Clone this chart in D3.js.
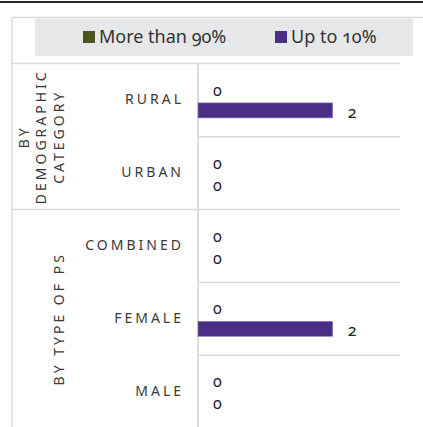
<!DOCTYPE html>
<html>
<head>
<meta charset="utf-8">
<script src="https://cdn.jsdelivr.net/npm/d3@7"></script>
<style>
  body { margin: 0; background: #fff; }
  svg { display: block; font-family: "Noto Sans", "Open Sans", sans-serif; font-variant-numeric: oldstyle-nums; }
</style>
</head>
<body>
<div id="chart"></div>
<script>
// data
const categories = ["RURAL", "URBAN", "COMBINED", "FEMALE", "MALE"];
const groupNames = [["BY", "DEMOGRAPHIC", "CATEGORY"], ["BY TYPE OF PS"]];
const groupOf = [0, 0, 1, 1, 1];
const seriesNames = ["More than 90%", "Up to 10%"];
const moreThan90 = [0, 0, 0, 0, 0];
const upTo10 = [2, 0, 0, 2, 0];
const seriesColors = ["#4b5320", "#4b2f87"];

const width = 423, height = 427;
const gridColor = "#dcdcdc";
const textColor = "#3a3a3a";

const svg = d3.select("#chart").append("svg")
    .attr("width", width).attr("height", height);

// top dark rule
svg.append("line").attr("x1", 0).attr("x2", width).attr("y1", 2).attr("y2", 2)
    .attr("stroke", "#2b2b2b").attr("stroke-width", 2);

// frame
svg.append("line").attr("x1", 12).attr("x2", width).attr("y1", 17.5).attr("y2", 17.5)
    .attr("stroke", gridColor).attr("stroke-width", 1.5);
svg.append("line").attr("x1", 12).attr("x2", 12).attr("y1", 17).attr("y2", height)
    .attr("stroke", gridColor).attr("stroke-width", 1.5);

// legend
svg.append("rect").attr("x", 35).attr("y", 19).attr("width", 378).attr("height", 37)
    .attr("fill", "#e6e7e8");
const legendX = [83, 275];
const legend = svg.selectAll(".leg").data(seriesNames).enter().append("g")
    .attr("class", "leg")
    .attr("transform", (d, i) => `translate(${legendX[i]},31)`);
legend.append("rect").attr("width", 12).attr("height", 12)
    .attr("fill", (d, i) => seriesColors[i]);
legend.append("text").attr("x", 16).attr("y", 6).attr("dy", "0.35em")
    .attr("font-size", 18).attr("fill", "#333").text(d => d);

// scales
const y = d3.scaleBand().domain(categories).range([64, 428]);
const x = d3.scaleLinear().domain([0, 3]).range([198, 400]);
const bw = y.bandwidth();
const ySub = d3.scaleBand().domain(seriesNames)
    .range([bw / 2 - 20, bw / 2 + 20]).paddingInner(0.25).paddingOuter(0.125);
const labelShift = [0, 2];

// grid lines
svg.append("line").attr("x1", 12).attr("x2", 400).attr("y1", 63.5).attr("y2", 63.5)
    .attr("stroke", gridColor).attr("stroke-width", 1.5);
categories.slice(1).forEach((c, i) => {
    const full = groupOf[i + 1] !== groupOf[i];
    svg.append("line")
        .attr("x1", full ? 12 : x(0)).attr("x2", 400)
        .attr("y1", y(c)).attr("y2", y(c))
        .attr("stroke", gridColor).attr("stroke-width", 1.5);
});
svg.append("line").attr("x1", x(0)).attr("x2", x(0)).attr("y1", 63).attr("y2", height)
    .attr("stroke", gridColor).attr("stroke-width", 2);

// category labels
svg.selectAll(".cat").data(categories).enter().append("text")
    .attr("class", "cat")
    .attr("x", 184)
    .attr("y", d => y(d) + bw / 2 - 1)
    .attr("dy", "0.35em")
    .attr("text-anchor", "end")
    .attr("font-size", 14)
    .attr("letter-spacing", 3)
    .attr("fill", textColor)
    .text(d => d);

// group labels
groupNames.forEach((lines, gi) => {
    const members = categories.filter((c, i) => groupOf[i] === gi);
    const y0 = y(members[0]), y1 = y(members[members.length - 1]) + bw;
    const cy = (y0 + y1) / 2;
    lines.forEach((ln, li) => {
        const cx = 59 - (lines.length - 1 - li) * 17.5;
        svg.append("text")
            .attr("transform", `translate(${cx},${cy}) rotate(-90)`)
            .attr("text-anchor", "middle")
            .attr("dy", "0.35em")
            .attr("font-size", 14)
            .attr("letter-spacing", 3)
            .attr("fill", textColor)
            .text(ln);
    });
});

// bars
const seriesData = [moreThan90, upTo10];
seriesData.forEach((vals, si) => {
    const rows = categories.map((c, i) => ({ cat: c, value: vals[i] }));
    const g = svg.append("g");
    g.selectAll("rect").data(rows.filter(d => d.value > 0)).enter().append("rect")
        .attr("x", x(0))
        .attr("y", d => y(d.cat) + ySub(seriesNames[si]))
        .attr("width", d => x(d.value) - x(0))
        .attr("height", ySub.bandwidth())
        .attr("fill", seriesColors[si])
        .attr("stroke", "#8a7bbd").attr("stroke-width", 0.6);
    g.selectAll("text").data(rows).enter().append("text")
        .attr("x", d => x(d.value) + 15)
        .attr("y", d => y(d.cat) + ySub(seriesNames[si]) + ySub.bandwidth() / 2 + labelShift[si])
        .attr("dy", "0.35em")
        .attr("font-size", 16)
        .attr("fill", "#222")
        .text(d => d.value);
});
</script>
</body>
</html>
